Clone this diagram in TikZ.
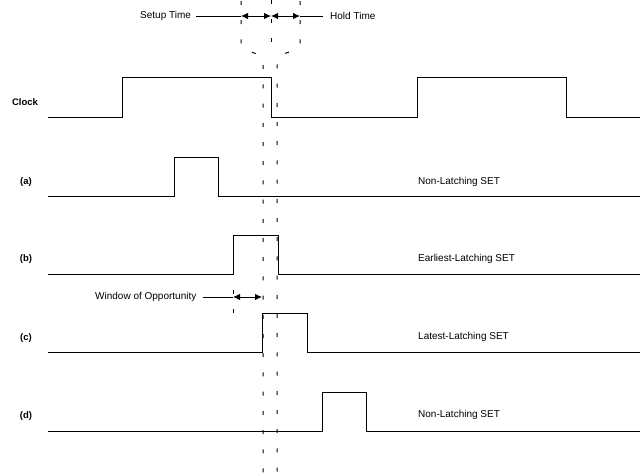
\documentclass[tikz,border=0pt]{standalone}
\usepackage{fontspec}
\setmainfont{Liberation Sans}
\usetikzlibrary{arrows.meta,calc}
\begin{document}
\begin{tikzpicture}[x=1pt,y=-1pt,
  sig/.style={line width=0.9pt,black},
  guide/.style={line width=1pt,black,dash pattern=on 4pt off 15.2pt},
  dim/.style={line width=0.8pt,black},
  tip/.style={-{Latex[length=7pt,width=6.5pt]}},
  lbl/.style={font=\fontsize{9.5}{11}\selectfont\bfseries,inner sep=0pt},
  txt/.style={font=\fontsize{10}{12}\selectfont,inner sep=0pt,anchor=west}]
\useasboundingbox (0,0) rectangle (643,475);
% guides
\draw[guide,dash phase=-1pt] (241,0) -- (241,44) .. controls (241,54) and (263,50) .. (263,62) -- (263,475);
\draw[guide,dash phase=-1pt] (300,0) -- (300,44) .. controls (300,54) and (277,50) .. (277,62) -- (277,475);
\draw[guide,dash phase=0pt] (271,0) -- (271,45);
\draw[guide] (233,290) -- (233,316);
% timing annotations
\node[txt] (setup) at (140,16) {Setup Time};
\node[txt] (hold) at (330,16) {Hold Time};
\coordinate (s0) at (241,16);
\coordinate (s1) at (271,16);
\coordinate (s2) at (300,16);
\draw[dim] ($(setup.east)+(5,0)$) -- (s0);
\draw[dim] (s2) -- ($(hold.west)+(-7,0)$);
\draw[dim,tip] ($(s0)!0.5!(s1)$) -- (s0);
\draw[dim,tip] ($(s0)!0.5!(s1)$) -- (s1);
\draw[dim,tip] ($(s1)!0.5!(s2)$) -- (s1);
\draw[dim,tip] ($(s1)!0.5!(s2)$) -- (s2);
\node[txt] (win) at (95,297) {Window of Opportunity};
\coordinate (w0) at (233,297);
\coordinate (w1) at (262,297);
\draw[dim] ($(win.east)+(6,0)$) -- (w0);
\draw[dim,tip] ($(w0)!0.5!(w1)$) -- (w0);
\draw[dim,tip] ($(w0)!0.5!(w1)$) -- (w1);
% signals
\draw[sig] (48,117) -- (122,117) -- (122,77) -- (271,77) -- (271,117) -- (417,117) -- (417,77) -- (566,77) -- (566,117) -- (640,117);
\draw[sig] (48,196) -- (174,196) -- (174,157) -- (218,157) -- (218,196) -- (640,196);
\draw[sig] (48,274) -- (233,274) -- (233,235) -- (278,235) -- (278,274) -- (640,274);
\draw[sig] (48,352) -- (262,352) -- (262,313) -- (307,313) -- (307,352) -- (640,352);
\draw[sig] (48,431) -- (322,431) -- (322,392) -- (366,392) -- (366,431) -- (640,431);
% labels
\node[lbl] (lc) at (25,102) {Clock};
\node[lbl] (la) at (26,182) {(a)};
\node[lbl] (lb) at (26,259) {(b)};
\node[lbl] (lcc) at (26,338) {(c)};
\node[lbl] (ld) at (26,416) {(d)};
\node[txt] (ra) at (418,182) {Non-Latching SET};
\node[txt] (rb) at (418,259) {Earliest-Latching SET};
\node[txt] (rc) at (418,337) {Latest-Latching SET};
\node[txt] (rd) at (418,415) {Non-Latching SET};
\end{tikzpicture}
\end{document}
